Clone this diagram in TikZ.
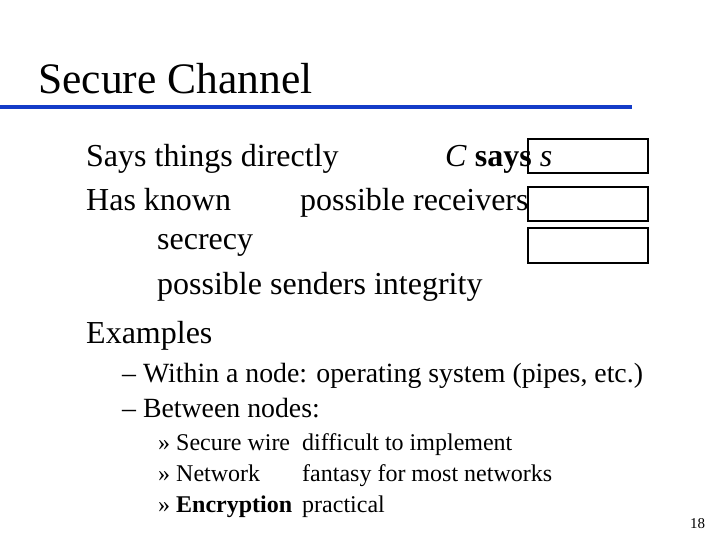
\documentclass[tikz,border=0pt]{standalone}
\usepackage{fontspec}
\setmainfont{Liberation Serif}
\definecolor{titleblue}{RGB}{20,60,200}
\begin{document}
\begin{tikzpicture}[x=1pt,y=-1pt,
  t/.style={anchor=base west,inner sep=0pt},
  big/.style={t,font=\fontsize{32}{34}\selectfont},
  mid/.style={t,font=\fontsize{27.8}{30}\selectfont},
  sm/.style={t,font=\fontsize{24}{26}\selectfont},
  box/.style={draw,line width=1.6pt}]
\useasboundingbox (0,0) rectangle (720,540);
\node[t,font=\fontsize{43.5}{46}\selectfont] (title) at (38,94) {Secure Channel};
\draw[titleblue,line width=4pt] (0,107.5) -- (632,107.5);
\node[big] (l1) at (86,167) {Says things directly};
\node[big] (cs) at (445,167) {\textit{C} \textbf{says} \textit{s}};
\node[big] (l2) at (86,211) {Has known};
\node[big] (l2b) at (300,211) {possible receivers};
\node[big] (l3) at (157,249) {secrecy};
\node[big] (l4) at (157,294) {possible senders integrity};
\node[big] (ex) at (86,343) {Examples};
\node[mid] (d1) at (122,382) {– Within a node: operating system (pipes, etc.)};
\node[mid] (d2) at (122,417) {– Between nodes:};
\node[sm] (s1) at (158,450) {» Secure wire};
\node[sm] (s1b) at (302,450) {difficult to implement};
\node[sm] (s2) at (158,481) {» Network};
\node[sm] (s2b) at (302,481) {fantasy for most networks};
\node[sm] (s3) at (158,512) {» \textbf{Encryption}};
\node[sm] (s3b) at (302,512) {practical};
\node[t,font=\fontsize{15}{16}\selectfont] (pg) at (690,528) {18};
\draw[box] (528,139) rectangle (648,173);
\draw[box] (528,187) rectangle (648,221);
\draw[box] (528,228) rectangle (648,263);
\end{tikzpicture}
\end{document}
